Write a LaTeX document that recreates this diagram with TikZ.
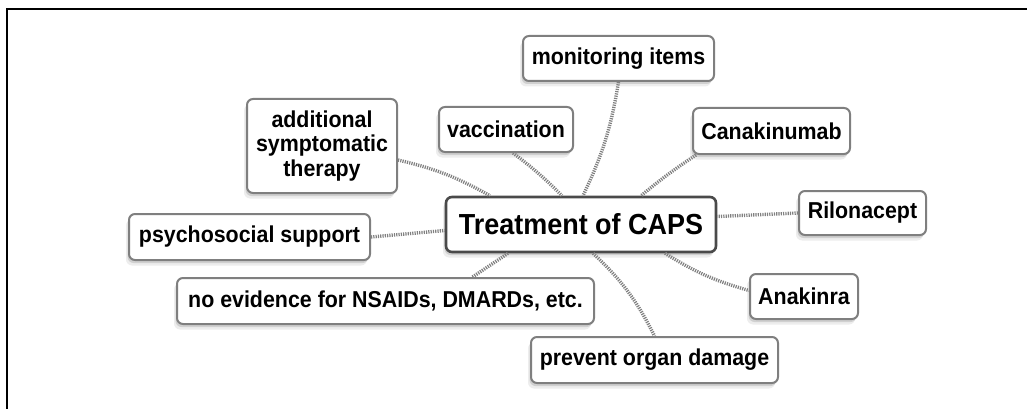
\documentclass[tikz,border=0pt]{standalone}
\usepackage{fontspec}
\setmainfont{Liberation Sans}[FakeStretch=0.93]
\usetikzlibrary{shadows}
\definecolor{boxgray}{HTML}{7F7F7F}
\definecolor{maingray}{HTML}{4A4A4A}
\definecolor{dotgray}{HTML}{808080}
\begin{document}
\begin{tikzpicture}[x=1pt,y=-1pt,
  softshadow/.style={general shadow={shadow xshift=-1.5pt,shadow yshift=-3pt,fill=black,opacity=0.12},
                     general shadow={shadow xshift=-3pt,shadow yshift=-5.5pt,fill=black,opacity=0.07}},
  box/.style={draw=boxgray,line width=2pt,rounded corners=6pt,fill=white,
    font=\fontsize{23}{24.3}\selectfont\bfseries,inner sep=0pt,align=center,softshadow},
  mainbox/.style={box,draw=maingray,line width=2.6pt,font=\fontsize{29}{31}\selectfont\bfseries},
  conn/.style={draw=dotgray,line width=3.4pt,dash pattern=on 1.2pt off 1.1pt}]
\useasboundingbox (0,0) rectangle (1027,409);
\draw[line width=2.2pt] (7,409) -- (7,9) -- (1027,9);

\node[mainbox,minimum width=270pt,minimum height=55pt] (c) at (581,224.5) {Treatment of CAPS};
\node[box,minimum width=191pt,minimum height=45pt] (mon) at (618.5,58.5) {monitoring items};
\node[box,minimum width=134pt,minimum height=45pt] (vac) at (506,129.5) {vaccination};
\node[box,minimum width=150pt,minimum height=94pt] (add) at (322,146) {additional\\symptomatic\\therapy};
\node[box,minimum width=157pt,minimum height=46pt] (can) at (771.5,131) {Canakinumab};
\node[box,minimum width=127pt,minimum height=44pt] (ril) at (862.5,213) {Rilonacept};
\node[box,minimum width=241pt,minimum height=46pt] (psy) at (249.5,237) {psychosocial support};
\node[box,minimum width=417pt,minimum height=46pt] (noe) at (385.5,301) {no evidence for NSAIDs, DMARDs, etc.};
\node[box,minimum width=247pt,minimum height=46pt] (prv) at (654.5,360) {prevent organ damage};
\node[box,minimum width=108pt,minimum height=45pt] (ana) at (804,296.5) {Anakinra};

\draw[conn] (mon.south) to[bend left=8] ([xshift=2pt]c.north);
\draw[conn] ([xshift=7pt]vac.south) to[bend left=4] ([xshift=-19pt]c.north);
\draw[conn] ([yshift=-14pt]add.east) to[bend left=8] ([xshift=-91pt]c.north);
\draw[conn] ([xshift=4pt]can.south west) to[bend right=3] ([xshift=60pt]c.north);
\draw[conn] (ril.west) -- ([yshift=8pt]c.east);
\draw[conn] (psy.east) -- ([yshift=-6pt]c.west);
\draw[conn] ([xshift=87pt]noe.north) -- ([xshift=-73pt]c.south);
\draw[conn] ([xshift=12pt]c.south) to[bend left=10] (prv.north);
\draw[conn] ([xshift=84pt]c.south) to[bend right=8] ([yshift=6pt]ana.west);
\end{tikzpicture}
\end{document}
